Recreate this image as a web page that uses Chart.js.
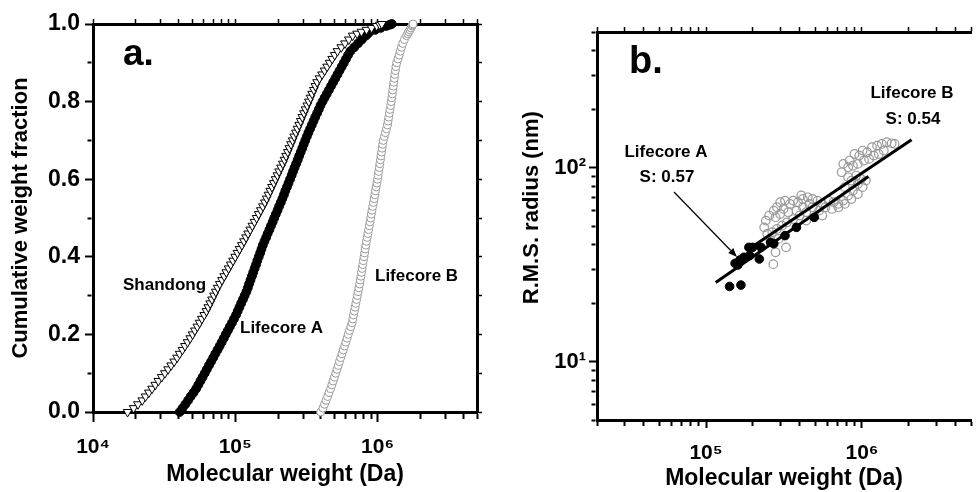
<!DOCTYPE html>
<html>
<head>
<meta charset="utf-8">
<title>Molecular weight distribution and conformation</title>
<script src="https://cdn.jsdelivr.net/npm/chart.js@4.4.0/dist/chart.umd.min.js"></script>
<style>
  html, body { margin: 0; padding: 0; background: #fff; overflow: hidden; }
  #wrap { position: relative; width: 976px; height: 492px; overflow: hidden; }
  #chartA { position: absolute; left: 0; top: 0; }
  #chartB { position: absolute; left: 490px; top: 0; }
</style>
</head>
<body>
<div id="wrap">
  <canvas id="chartA" width="490" height="492"></canvas>
  <canvas id="chartB" width="494" height="492"></canvas>
</div>
<script>
// ---- panel a: cumulative weight fraction vs molecular weight ----
const cumFraction = [
  0.00, 0.01, 0.02, 0.03, 0.04, 0.05, 0.06, 0.07, 0.08, 0.09,
  0.10, 0.11, 0.12, 0.13, 0.14, 0.15, 0.16, 0.17, 0.18, 0.19,
  0.20, 0.21, 0.22, 0.23, 0.24, 0.25, 0.26, 0.27, 0.28, 0.29,
  0.30, 0.31, 0.32, 0.33, 0.34, 0.35, 0.36, 0.37, 0.38, 0.39,
  0.40, 0.41, 0.42, 0.43, 0.44, 0.45, 0.46, 0.47, 0.48, 0.49,
  0.50, 0.51, 0.52, 0.53, 0.54, 0.55, 0.56, 0.57, 0.58, 0.59,
  0.60, 0.61, 0.62, 0.63, 0.64, 0.65, 0.66, 0.67, 0.68, 0.69,
  0.70, 0.71, 0.72, 0.73, 0.74, 0.75, 0.76, 0.77, 0.78, 0.79,
  0.80, 0.81, 0.82, 0.83, 0.84, 0.85, 0.86, 0.87, 0.88, 0.89,
  0.90, 0.91, 0.92, 0.93, 0.94, 0.95, 0.96, 0.97, 0.975, 0.98,
  0.985, 0.99, 0.995, 0.998, 1.00
];

const mwShandong = [
  17500, 19300, 20700, 22200, 23400, 24700, 26000, 27400, 28800, 30400,
  32000, 33700, 35400, 37200, 39000, 40600, 42500, 44300, 46200, 48200,
  50100, 52000, 54100, 56100, 58200, 60500, 62700, 64600, 66600, 68600,
  70800, 72900, 75200, 77800, 80600, 83600, 86500, 89700, 92900, 96400,
  99800, 103500, 107200, 111200, 115100, 119100, 123000, 127400, 131800, 136400,
  141300, 145900, 151000, 156300, 161400, 166300, 171000, 176200, 181100, 186600,
  191900, 197700, 203200, 209400, 215800, 221800, 227500, 233900, 239900, 246600,
  252900, 259400, 266700, 273500, 281200, 288400, 295800, 304100, 311900, 320600,
  328900, 338100, 346700, 356500, 365600, 375800, 390800, 407400, 424600, 441600,
  460300, 479700, 500000, 522400, 555900, 590200, 628100, 668300, 718000, 770900,
  836000, 907800, 986000, 1038000, 1071500
];

const mwLifecoreA = [
  40700, 42600, 44600, 46600, 48600, 50900, 53100, 55000, 56900, 58900,
  61000, 63100, 65300, 67600, 70000, 72400, 75000, 77600, 80200, 83000,
  85700, 88700, 91600, 94800, 97900, 101200, 104000, 106900, 109900, 113200,
  116400, 119700, 122500, 125000, 127900, 130900, 133700, 136800, 140000, 142900,
  146200, 149600, 152800, 156300, 160300, 164800, 169000, 173800, 178200, 183200,
  187900, 192800, 198200, 203200, 208900, 214300, 219800, 224900, 230700, 236600,
  242700, 248900, 254700, 261200, 267900, 274800, 281200, 288400, 295800, 302700,
  310500, 318400, 326600, 335700, 345100, 354800, 364800, 375800, 386400, 397200,
  410200, 424600, 439500, 455000, 471000, 487500, 504700, 522400, 540800, 559800,
  579400, 599800, 620900, 644200, 685500, 729400, 776200, 827900, 853000, 881000,
  964000, 1054000, 1153000, 1216000, 1259000
];

const mwLifecoreB = [
  398100, 413000, 423600, 434500, 445600, 456000, 467700, 477500, 487500, 497700,
  508200, 518800, 529700, 539500, 550800, 562300, 574100, 586100, 598400, 610900,
  622300, 635300, 648600, 662200, 669900, 677700, 687100, 695000, 703100, 712900,
  721100, 729400, 739600, 748200, 755100, 763800, 770900, 778000, 787000, 794300,
  803500, 810900, 818400, 827900, 835600, 845300, 855100, 865000, 875000, 885100,
  895400, 903600, 914100, 924700, 935400, 946200, 957200, 966000, 977200, 988600,
  1000000, 1009000, 1019000, 1028000, 1038000, 1047000, 1057000, 1067000, 1076000, 1086000,
  1096000, 1117000, 1135000, 1156000, 1175000, 1186000, 1199000, 1211000, 1222000, 1236000,
  1247000, 1259000, 1271000, 1279000, 1291000, 1300000, 1312000, 1321000, 1334000, 1346000,
  1365000, 1390000, 1419000, 1445000, 1472000, 1503000, 1545000, 1600000, 1630000, 1660000,
  1689000, 1718000, 1748000, 1766000, 1778000
];

// ---- panel b: r.m.s. radius vs molecular weight ----
const rmsMwA = [141600, 167400, 153600, 165000, 160000, 175000, 190500, 188300,
  198700, 219700, 225000, 259500, 272000, 321000, 380000, 494000];
const rmsRgA = [24.4, 24.8, 32.1, 33.4, 31.5, 34.5, 35.2, 38.8,
  38.8, 33.8, 38.8, 41.2, 40.5, 44.6, 49.2, 55.4];

const rmsMwB = [
  270000, 279000, 326000, 292000, 259000, 236000, 242000, 254000, 272000, 285000,
  299000, 321000, 345000, 362000, 389000, 418000, 449000, 482000, 518000, 556000,
  612000, 658000, 706000, 759000, 815000, 875000, 940000, 986000, 247000, 266000,
  285000, 307000, 330000, 362000, 398000, 439000, 482000, 531000, 583000, 641000,
  706000, 776000, 855000, 940000, 1010000, 1060000, 741000, 759000, 834000, 895000,
  961000, 1010000, 1080000, 1160000, 1250000, 1340000, 1440000, 1550000, 1620000, 940000,
  1030000, 1110000, 1190000, 1280000, 1380000, 815000, 875000, 279000, 299000, 314000,
  337000, 380000, 418000, 460000, 439000, 556000, 776000, 855000, 918000, 815000,
  408000
];
const rmsRgB = [
  31.8, 36.6, 38.8, 42.9, 42.1, 49.2, 53.3, 56.6, 60.0, 62.5,
  66.3, 67.6, 65.0, 67.6, 66.3, 68.9, 70.3, 68.9, 67.6, 65.0,
  67.6, 66.3, 65.0, 67.6, 71.8, 76.1, 82.4, 87.5, 45.5, 46.5,
  48.3, 50.2, 52.2, 54.3, 56.6, 58.9, 62.5, 60.0, 62.5, 61.2,
  62.5, 65.0, 68.9, 73.1, 79.3, 85.7, 94.6, 104.5, 108.7, 117.5,
  115.3, 122.4, 120.0, 127.4, 129.8, 132.4, 135.1, 133.4, 132.4, 104.5,
  108.7, 110.9, 115.3, 117.5, 122.4, 100.4, 102.3, 55.5, 57.7, 61.2,
  58.9, 60.0, 62.5, 65.0, 53.3, 56.6, 79.3, 85.7, 91.0, 89.1,
  71.8
];

// power-law fits (slopes 0.57 and 0.54)
const fitMwA = [115400, 1100000];
const fitRgA = [25.6, 89.9];
const fitMwB = [195700, 2080000];
const fitRgB = [38.8, 139];

// ---- tick labels ----
const aXDecades = [1e4, 1e5, 1e6];
const aXDecadeLabels = ['10\u2074', '10\u2075', '10\u2076'];
const aYTickLabels = ['0.0', '', '0.2', '', '0.4', '', '0.6', '', '0.8', '', '1.0'];
const bXDecades = [1e5, 1e6];
const bXDecadeLabels = ['10\u2075', '10\u2076'];
const bYDecades = [10, 100];
const bYDecadeLabels = ['10\u00B9', '10\u00B2'];

const FONT = "'Liberation Sans', Arial, Helvetica, sans-serif";
Chart.defaults.font.family = FONT;
Chart.defaults.color = '#000';

const pts = (xs, ys) => xs.map((x, i) => ({ x: x, y: ys[i] }));
const bold = size => ({ family: FONT, size: size, weight: 'bold' });

// 1..9 x 10^n tick positions between lo and hi
function logTickValues(lo, hi) {
  const out = [];
  for (let e = Math.floor(Math.log10(lo)); e <= Math.ceil(Math.log10(hi)); e++) {
    for (let m = 1; m <= 9; m++) {
      const v = m * Math.pow(10, e);
      if (v >= lo * 0.999 && v <= hi * 1.001) out.push(v);
    }
  }
  return out;
}

function decadeLabel(decades, labels) {
  return v => {
    const i = decades.indexOf(v);
    return i < 0 ? '' : labels[i];
  };
}

// tick marks: major full length, minor shorter (drawn with a dash)
function tickGrid(tickLength, minorLength, isMajor, fromAxis) {
  return {
    display: true,
    drawOnChartArea: false,
    drawTicks: true,
    tickLength: tickLength,
    tickWidth: 2,
    tickColor: '#000',
    tickBorderDash: ctx => {
      if (!ctx.tick || isMajor(ctx)) return [];
      return fromAxis ? [minorLength, 100] : [0, tickLength - 1.5 - minorLength, minorLength, 100];
    }
  };
}

const frameBorder = { display: true, color: '#000', width: 3 };
const mirrorGrid = { display: true, drawOnChartArea: false, drawTicks: true, tickLength: 5, tickWidth: 1.5, tickColor: '#000' };

function annotate(items, arrows) {
  return {
    id: 'annotate',
    afterDatasetsDraw(chart) {
      const c = chart.ctx;
      c.save();
      c.fillStyle = '#000';
      c.strokeStyle = '#000';
      items.forEach(t => {
        c.font = 'bold ' + t.size + 'px ' + FONT;
        c.textAlign = t.align;
        c.textBaseline = t.baseline;
        c.fillText(t.text, t.x, t.y);
      });
      (arrows || []).forEach(a => {
        const ang = Math.atan2(a.y2 - a.y1, a.x2 - a.x1);
        const hl = 9, hw = 3.5;
        const bx = a.x2 - hl * Math.cos(ang), by = a.y2 - hl * Math.sin(ang);
        c.lineWidth = 1.2;
        c.beginPath();
        c.moveTo(a.x1, a.y1);
        c.lineTo(bx, by);
        c.stroke();
        c.beginPath();
        c.moveTo(a.x2, a.y2);
        c.lineTo(bx + hw * Math.sin(ang), by - hw * Math.cos(ang));
        c.lineTo(bx - hw * Math.sin(ang), by + hw * Math.cos(ang));
        c.closePath();
        c.fill();
      });
      c.restore();
    }
  };
}

// ---- chart a ----
const aXTicks = logTickValues(1e4, 5e6);

new Chart(document.getElementById('chartA'), {
  type: 'scatter',
  data: {
    datasets: [
      { label: 'Shandong', data: pts(mwShandong, cumFraction), pointStyle: 'triangle', rotation: 180,
        pointRadius: 5, backgroundColor: '#fff', borderColor: '#000', borderWidth: 1, clip: false },
      { label: 'Lifecore A', data: pts(mwLifecoreA, cumFraction), pointStyle: 'circle',
        pointRadius: 4.4, backgroundColor: '#000', borderColor: '#000', borderWidth: 1, clip: false },
      { label: 'Lifecore B', data: pts(mwLifecoreB, cumFraction), pointStyle: 'circle',
        pointRadius: 4, backgroundColor: '#fff', borderColor: '#9a9a9a', borderWidth: 1, clip: false }
    ]
  },
  options: {
    responsive: false,
    animation: false,
    devicePixelRatio: 1,
    layout: { padding: { top: 24, right: 9, left: 0, bottom: 0 } },
    plugins: { legend: { display: false }, tooltip: { enabled: false } },
    scales: {
      x: {
        type: 'logarithmic', position: 'bottom', min: 1e4, max: 5e6,
        afterBuildTicks: s => { s.ticks = aXTicks.map(v => ({ value: v })); },
        afterFit: s => { s.height = 80; },
        border: frameBorder,
        grid: tickGrid(10, 5, c => aXDecades.includes(c.tick.value), true),
        ticks: { autoSkip: false, maxRotation: 0, padding: 13, color: '#000', font: bold(21),
                 callback: decadeLabel(aXDecades, aXDecadeLabels) },
        title: { display: true, text: 'Molecular weight (Da)', color: '#000', font: bold(23),
                 padding: { top: 0, bottom: 4 } }
      },
      y: {
        type: 'linear', position: 'left', min: 0, max: 1,
        afterFit: s => { s.width = 93; },
        border: frameBorder,
        grid: tickGrid(8, 4, c => c.index % 2 === 0, false),
        ticks: { stepSize: 0.1, autoSkip: false, padding: 5, color: '#000', font: bold(23),
                 callback: (v, i) => aYTickLabels[i] || '' },
        title: { display: true, text: 'Cumulative weight fraction', color: '#000', font: bold(22),
                 padding: { top: 8, bottom: 0 } }
      },
      x2: {
        type: 'logarithmic', position: 'top', min: 1e4, max: 5e6,
        afterBuildTicks: s => { s.ticks = aXTicks.map(v => ({ value: v })); },
        afterFit: s => { s.height = 0; },
        border: frameBorder, grid: mirrorGrid, ticks: { display: false }
      },
      y2: {
        type: 'linear', position: 'right', min: 0, max: 1,
        afterFit: s => { s.width = 0; },
        border: frameBorder, grid: mirrorGrid, ticks: { display: false, stepSize: 0.1 }
      }
    }
  },
  plugins: [annotate([
    { text: 'a.', x: 123, y: 65, size: 37, align: 'left', baseline: 'alphabetic' },
    { text: 'Shandong', x: 123, y: 285, size: 17, align: 'left', baseline: 'middle' },
    { text: 'Lifecore A', x: 240, y: 328, size: 17, align: 'left', baseline: 'middle' },
    { text: 'Lifecore B', x: 375, y: 276, size: 17, align: 'left', baseline: 'middle' }
  ])]
});

// ---- chart b ----
const bXTicks = logTickValues(2e4, 5e6);
const bYTicks = logTickValues(5, 500);

new Chart(document.getElementById('chartB'), {
  type: 'scatter',
  data: {
    datasets: [
      { label: 'Lifecore A fit', data: pts(fitMwA, fitRgA), showLine: true, borderColor: '#000',
        borderWidth: 3, pointRadius: 0, clip: false },
      { label: 'Lifecore B fit', data: pts(fitMwB, fitRgB), showLine: true, borderColor: '#000',
        borderWidth: 3, pointRadius: 0, clip: false },
      { label: 'Lifecore A', data: pts(rmsMwA, rmsRgA), pointRadius: 4.3, backgroundColor: '#000',
        borderColor: '#000', borderWidth: 1, clip: false },
      { label: 'Lifecore B', data: pts(rmsMwB, rmsRgB), pointRadius: 4.3, backgroundColor: 'rgba(255,255,255,0)',
        borderColor: '#999', borderWidth: 1.2, clip: false }
    ]
  },
  options: {
    responsive: false,
    animation: false,
    devicePixelRatio: 1,
    layout: { padding: { top: 32, right: 0, left: 0, bottom: 0 } },
    plugins: { legend: { display: false }, tooltip: { enabled: false } },
    scales: {
      x: {
        type: 'logarithmic', position: 'bottom', min: 2e4, max: 5e6,
        afterBuildTicks: s => { s.ticks = bXTicks.map(v => ({ value: v })); },
        afterFit: s => { s.height = 72; },
        border: frameBorder,
        grid: tickGrid(8, 4, c => bXDecades.includes(c.tick.value), true),
        ticks: { autoSkip: false, maxRotation: 0, padding: 13, color: '#000', font: bold(21),
                 callback: decadeLabel(bXDecades, bXDecadeLabels) },
        title: { display: true, text: 'Molecular weight (Da)', color: '#000', font: bold(23),
                 padding: { top: 0, bottom: 0 } }
      },
      y: {
        type: 'logarithmic', position: 'left', min: 5, max: 500,
        afterBuildTicks: s => { s.ticks = bYTicks.map(v => ({ value: v })); },
        afterFit: s => { s.width = 107; },
        border: frameBorder,
        grid: tickGrid(8, 4, c => bYDecades.includes(c.tick.value), false),
        ticks: { autoSkip: false, padding: 3, color: '#000', font: bold(22),
                 callback: decadeLabel(bYDecades, bYDecadeLabels) },
        title: { display: true, text: '\u00A0\u00A0\u00A0\u00A0\u00A0\u00A0R.M.S. radius (nm)', color: '#000',
                 font: bold(22), padding: { top: 29, bottom: 0 } }
      },
      x2: {
        type: 'logarithmic', position: 'top', min: 2e4, max: 5e6,
        afterBuildTicks: s => { s.ticks = bXTicks.map(v => ({ value: v })); },
        afterFit: s => { s.height = 0; },
        border: frameBorder, grid: mirrorGrid, ticks: { display: false }
      }
    }
  },
  plugins: [annotate([
    { text: 'b.', x: 139, y: 73, size: 38, align: 'left', baseline: 'alphabetic' },
    { text: 'Lifecore A', x: 176, y: 152, size: 17, align: 'center', baseline: 'middle' },
    { text: 'S: 0.57', x: 177, y: 177, size: 17, align: 'center', baseline: 'middle' },
    { text: 'Lifecore B', x: 422, y: 93, size: 17, align: 'center', baseline: 'middle' },
    { text: 'S: 0.54', x: 423, y: 119, size: 17, align: 'center', baseline: 'middle' }
  ], [
    { x1: 184, y1: 192, x2: 247, y2: 257 }
  ])]
});
</script>
</body>
</html>
